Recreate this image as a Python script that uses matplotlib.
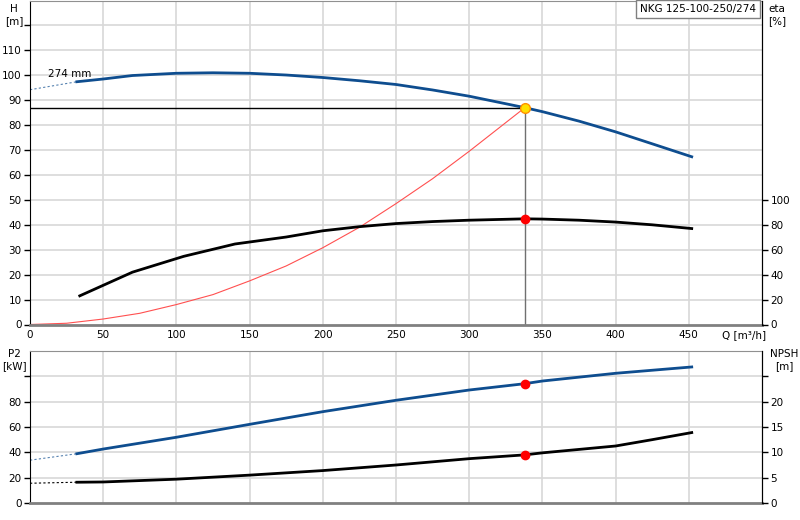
import matplotlib.pyplot as plt

# pump curve data (Q in m3/h)
q_h = [32, 50, 70, 100, 125, 150, 175, 200, 225, 250, 275, 300, 338, 350, 375, 400, 425, 452]
h = [97.4, 98.5, 99.9, 100.8, 101.0, 100.8, 100.1, 99.1, 97.8, 96.3, 94.1, 91.6, 87.0, 85.4,
     81.6, 77.3, 72.5, 67.3]
q_h_ext = [0, 32]
h_ext = [94.2, 97.4]

q_eta = [34, 70, 105, 140, 175, 200, 225, 250, 275, 300, 338, 350, 375, 400, 425, 452]
eta = [23, 42, 54.7, 64.6, 70.2, 75.2, 78.5, 81, 82.6, 83.7, 84.8, 84.6, 83.7, 82.2, 80, 77]

q_sys = [0, 25, 50, 75, 100, 125, 150, 175, 200, 225, 250, 275, 300, 338]
h_sys = [0, 0.5, 2.2, 4.5, 8, 12, 17.5, 23.5, 30.8, 39, 48.5, 58.5, 69.5, 87]

q_p2 = [32, 50, 100, 150, 200, 250, 300, 338, 350, 400, 452]
p2 = [38.9, 42.6, 51.9, 62.1, 72.1, 81.1, 89.2, 94.2, 96.3, 102.4, 107.4]
q_p2_ext = [0, 32]
p2_ext = [33.8, 38.9]

q_npsh = [32, 50, 100, 150, 200, 250, 300, 338, 350, 400, 425, 452]
npsh = [4.1, 4.15, 4.7, 5.5, 6.4, 7.5, 8.75, 9.5, 9.9, 11.25, 12.5, 13.9]
q_npsh_ext = [0, 32]
npsh_ext = [3.9, 4.1]

q_op = 338
h_op = 87
eta_op = 84.8
p2_op = 94.2
npsh_op = 9.5

blue = '#0e4d8f'
grid_c = '#d8d8d8'
fs = 7.5

fig = plt.figure(figsize=(8, 5.2), dpi=100)
ax = fig.add_axes([30/800, 1 - 324.5/520, 732/800, 324/520])
ax2 = ax.twinx()
bx = fig.add_axes([30/800, 17/520, 732/800, 152/520])
bx2 = bx.twinx()

xt = list(range(0, 501, 50))

# --- top chart: H and eta ---
ax.set_xlim(0, 500)
ax.set_ylim(0, 130)
ax2.set_ylim(0, 260)
ax.set_yticks(range(0, 121, 10))
ax.set_yticklabels([str(v) for v in range(0, 111, 10)] + [''])
ax.set_xticks(xt)
ax.set_xticklabels([str(v) for v in xt[:-1]] + [''])
ax2.set_yticks(range(0, 101, 20))
for v in range(10, 121, 10):
    ax.axhline(v, color=grid_c, lw=1.2, zorder=0)
for v in xt[1:-1]:
    ax.axvline(v, color=grid_c, lw=1.2, zorder=0)

ax.plot(q_h_ext, h_ext, color=blue, lw=0.8, ls=(0, (2, 2)), alpha=0.7)
ax.plot(q_h, h, color=blue, lw=2)
ax2.plot(q_eta, eta, color='black', lw=2)
ax.plot(q_sys, h_sys, color='#ff5050', lw=0.8)
ax.plot([0, q_op], [h_op, h_op], color='black', lw=1)
ax.plot([q_op, q_op], [0, h_op], color='#707070', lw=1)
ax.plot(q_op, h_op, 'o', ms=7, mfc='#ffe000', mec='#ff9000', mew=1, zorder=5)
ax2.plot(q_op, eta_op, 'o', ms=6, color='red', zorder=5)
ax.text(12, 99.5, '274 mm', fontsize=fs)

# --- bottom chart: P2 and NPSH ---
bx.set_xlim(0, 500)
bx.set_ylim(0, 120)
bx2.set_ylim(0, 30)
bx.set_yticks(range(0, 101, 20))
bx.set_yticklabels([str(v) for v in range(0, 81, 20)] + [''])
bx2.set_yticks(range(0, 26, 5))
bx2.set_yticklabels([str(v) for v in range(0, 21, 5)] + [''])
bx.set_xticks(xt)
bx.set_xticklabels([])
for v in range(20, 101, 20):
    bx.axhline(v, color=grid_c, lw=1.2, zorder=0)
for v in xt[1:-1]:
    bx.axvline(v, color=grid_c, lw=1.2, zorder=0)

bx.plot(q_p2_ext, p2_ext, color=blue, lw=0.8, ls=(0, (2, 2)), alpha=0.7)
bx.plot(q_p2, p2, color=blue, lw=2)
bx2.plot(q_npsh_ext, npsh_ext, color='black', lw=0.8, ls=(0, (2, 2)))
bx2.plot(q_npsh, npsh, color='black', lw=2)
bx.plot(q_op, p2_op, 'o', ms=6, color='red', zorder=5)
bx2.plot(q_op, npsh_op, 'o', ms=6, color='red', zorder=5)

for a, r in [(ax, ax2), (bx, bx2)]:
    a.spines['top'].set_color('#909090')
    a.spines['bottom'].set_color('#808080')
    a.spines['bottom'].set_linewidth(2)
    a.spines['left'].set_color('black')
    r.spines['right'].set_color('black')
    r.spines['top'].set_visible(False)
    r.spines['bottom'].set_visible(False)
    r.spines['left'].set_visible(False)
    a.tick_params(axis='y', length=4, width=1, labelsize=fs, pad=2)
    a.tick_params(axis='x', length=0, labelsize=fs, pad=4)
    r.tick_params(axis='y', length=4, width=1, labelsize=fs, pad=2)

fig.text(14/800, 1 - 4/520, 'H\n[m]', fontsize=fs, ha='center', va='top', linespacing=1.3)
fig.text(768/800, 1 - 4/520, 'eta\n[%]', fontsize=fs, ha='left', va='top', linespacing=1.3)
fig.text(722/800, 1 - 335/520, 'Q [m³/h]', fontsize=fs, ha='left', va='center')
fig.text(14/800, 1 - 349/520, 'P2\n[kW]', fontsize=fs, ha='center', va='top', linespacing=1.3)
fig.text(784/800, 1 - 349/520, 'NPSH\n[m]', fontsize=fs, ha='center', va='top', linespacing=1.3)
fig.text(756/800, 1 - 9/520, 'NKG 125-100-250/274', fontsize=fs, ha='right', va='center',
         bbox=dict(boxstyle='square,pad=0.4', fc='white', ec='#808080', lw=1))

fig.savefig('out.png', dpi=100)
